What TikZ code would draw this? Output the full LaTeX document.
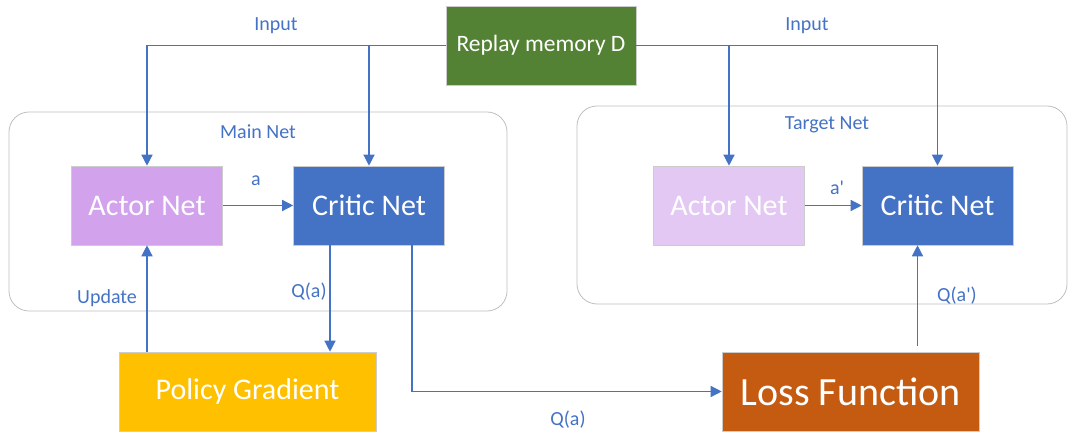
\documentclass[tikz,border=0pt]{standalone}
\usepackage{xcolor}
\usepackage{tikz}
\usepackage{fontspec}
\setmainfont{Carlito}
\usetikzlibrary{positioning,arrows.meta}

\definecolor{flowblue}{RGB}{68,114,196}
\definecolor{memgreen}{RGB}{84,130,53}
\definecolor{actorpink}{RGB}{211,162,236}
\definecolor{actorpale}{RGB}{226,200,242}
\definecolor{gradgold}{RGB}{255,192,0}
\definecolor{lossorange}{RGB}{197,90,17}

\tikzset{
  netbox/.style={draw=black!20, line width=0.6pt, text=white, minimum width=151, minimum height=79, inner sep=0pt, font=\fontsize{30}{32}\selectfont},
  flow/.style={draw=flowblue, line width=1.4pt, -{Triangle[length=11pt,width=11pt]}},
  lbl/.style={text=flowblue, inner sep=0.75pt, font=\fontsize{20}{22}\selectfont},
  group/.style={draw=black!25, line width=0.8pt, rounded corners=20}
}

\begin{document}
\begin{tikzpicture}[x=1pt,y=1pt,yscale=-1,xscale=1]
            \useasboundingbox (0,0) rectangle (1071,435);
            \draw[group] (9,112) rectangle (507,311);
            \draw[group] (577,106) rectangle (1067,304);

            \node[netbox, fill=memgreen, minimum width=190, font=\fontsize{23.5}{26}\selectfont] (replay) at (541,45.5) {Replay memory D};
            \node[netbox, fill=actorpink] (actorM) at (147,205.5) {Actor Net};
            \node[netbox, fill=flowblue] (criticM) at (369,205.5) {Critic Net};
            \node[netbox, fill=actorpale] (actorT) at (729,205.5) {Actor Net};
            \node[netbox, fill=flowblue] (criticT) at (937.5,205.5) {Critic Net};
            \node[netbox, fill=gradgold, minimum width=257] (policy) at (247.5,391.5) {Policy Gradient};
            \node[netbox, fill=lossorange, minimum width=257, font=\fontsize{40}{42}\selectfont] (loss) at (850.5,391.5) {Loss Function};

            \draw[flow] (replay.west) -| (actorM.north);
            \draw[flow] (replay.west -| criticM.north) -- (criticM.north);
            \draw[flow] (replay.east) -| (criticT.north);
            \draw[flow] (replay.east -| actorT.north) -- (actorT.north);
            \draw[flow] (actorM) -- (criticM);
            \draw[flow] (actorT) -- (criticT);
            \draw[flow] ([xshift=-39]criticM.south) -- ([xshift=-39]criticM.south |- policy.north);
            \draw[flow] (policy.north -| actorM.south) -- (actorM.south);
            \draw[flow] ([xshift=43]criticM.south) |- (loss.west);
            \draw[flow] ([xshift=-20,yshift=-6]criticT.south |- loss.north) -- ([xshift=-20]criticT.south);

            \node[lbl] (inL) at (276,26) {Input};
            \node[lbl] (inR) at (807,26) {Input};
            \node[lbl] (mainlbl) at (258,132) {Main Net};
            \node[lbl] (targetlbl) at (827,125) {Target Net};
            \node[lbl] (albl) at (256,181) {a};
            \node[lbl] (aplbl) at (837,188) {a\textquotesingle};
            \node[lbl] (qalbl) at (309,292) {Q(a)};
            \node[lbl] (updlbl) at (107,298) {Update};
            \node[lbl] (qlosslbl) at (568,420) {Q(a)};
            \node[lbl] (qaplbl) at (957,296) {Q(a\textquotesingle)};
        \end{tikzpicture}
\end{document}
